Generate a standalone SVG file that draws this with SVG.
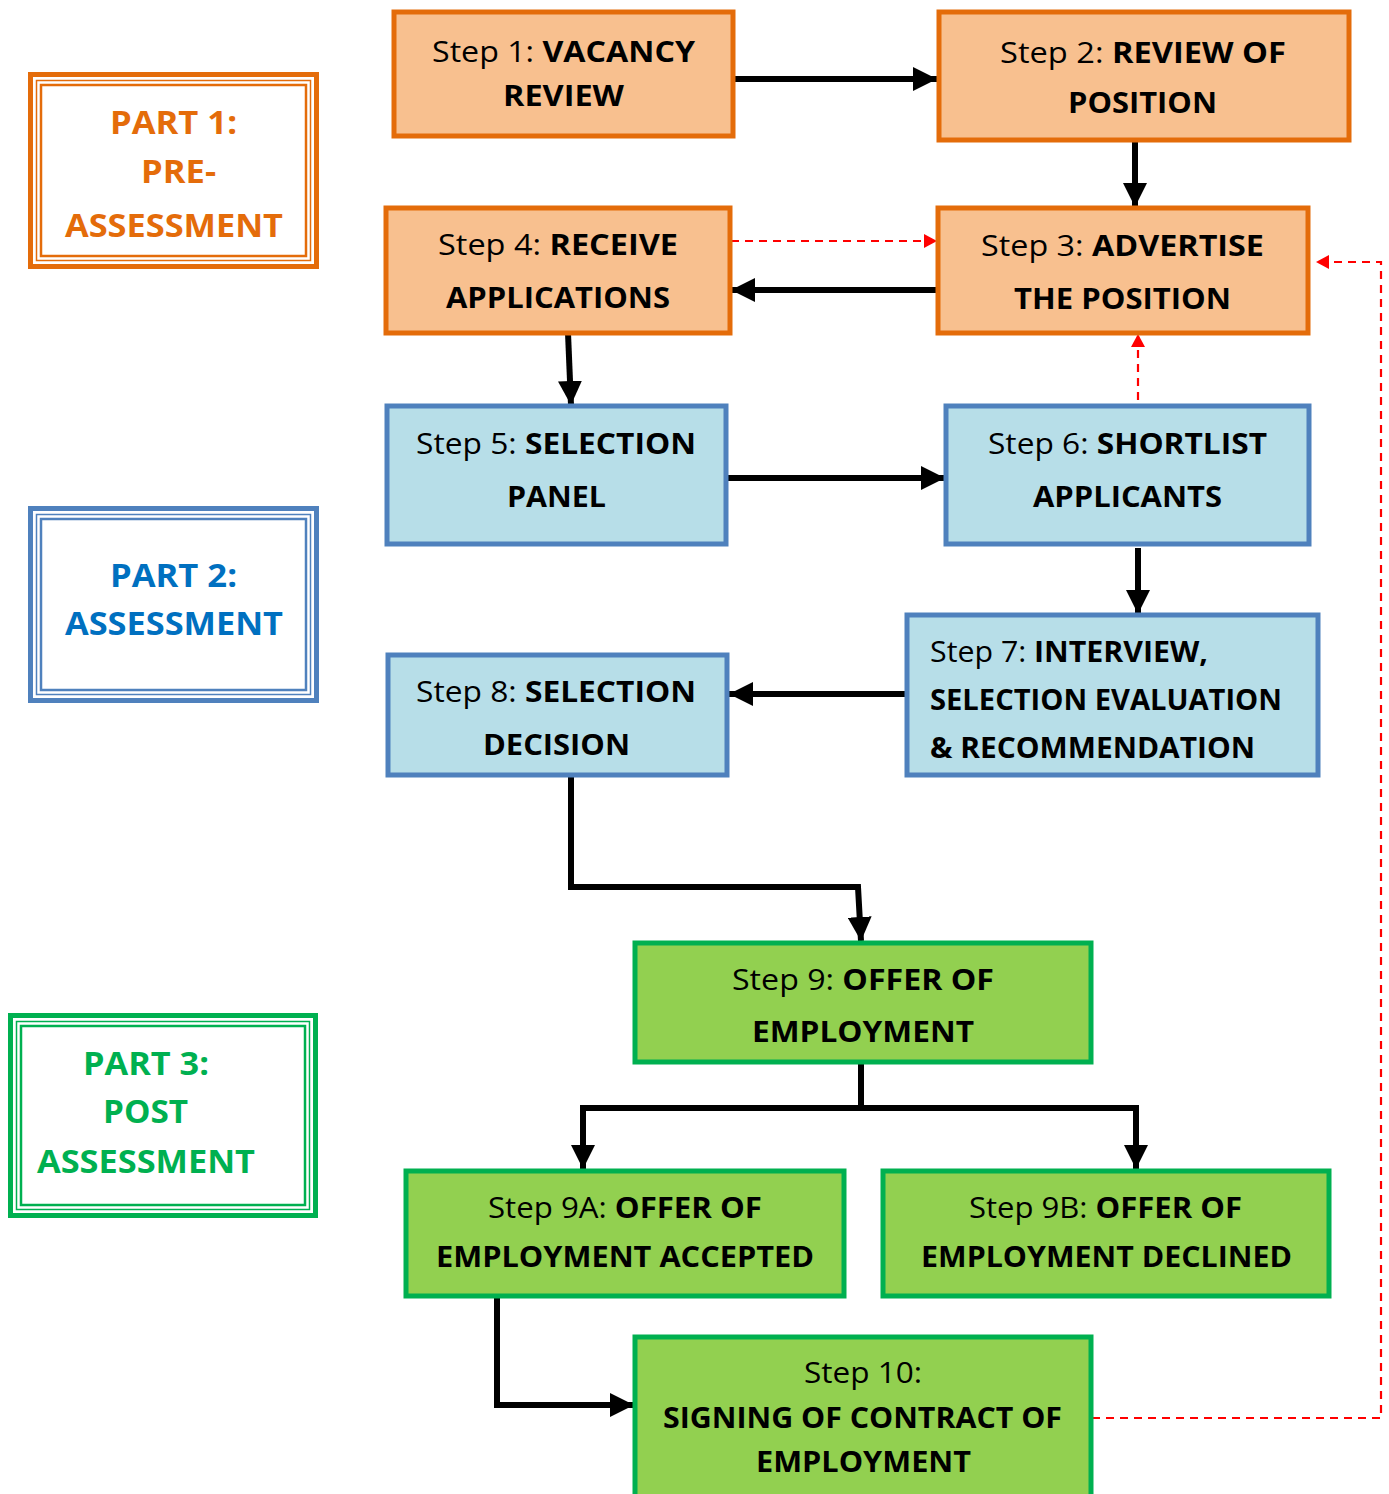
<svg xmlns="http://www.w3.org/2000/svg" width="1389" height="1494" viewBox="0 0 1389 1494">
<style>
.t{font-family:"Open Sans","Liberation Sans",sans-serif;font-size:29px;fill:#000}
.c{text-anchor:middle}
.b{font-weight:bold}
.p{font-family:"Open Sans","Liberation Sans",sans-serif;font-size:33px;font-weight:bold;text-anchor:middle}
.or{fill:#F8C08F;stroke:#E46C0A;stroke-width:5}
.bl{fill:#B7DEE8;stroke:#4F81BD;stroke-width:5}
.gr{fill:#92D050;stroke:#00B050;stroke-width:5}
.con{fill:none;stroke:#000;stroke-width:6;stroke-linejoin:miter;marker-end:url(#ah)}
.red{fill:none;stroke:#FF0000;stroke-width:2.2;stroke-dasharray:8 6;marker-end:url(#rh)}
</style>
<defs>
<marker id="ah" markerUnits="userSpaceOnUse" markerWidth="24" markerHeight="24" refX="24" refY="12" orient="auto"><path d="M0,0 L24,12 L0,24 z" fill="#000"/></marker>
<marker id="rh" markerUnits="userSpaceOnUse" markerWidth="13" markerHeight="14" refX="13" refY="7" orient="auto"><path d="M0,0 L13,7 L0,14 z" fill="#FF0000"/></marker>
</defs>
<rect width="1389" height="1494" fill="#fff"/>

<g id="part1">
<rect x="30.5" y="74.5" width="286" height="192" fill="#fff" stroke="#E46C0A" stroke-width="5"/>
<rect x="36.5" y="80.5" width="274" height="180" fill="none" stroke="#E46C0A" stroke-width="1.5"/>
<rect x="41" y="85" width="265" height="171" fill="none" stroke="#E46C0A" stroke-width="2.5"/>
<text class="p" fill="#E46C0A" x="173.5" y="134" textLength="127" lengthAdjust="spacingAndGlyphs">PART 1:</text>
<text class="p" fill="#E46C0A" x="178.5" y="183" textLength="75" lengthAdjust="spacingAndGlyphs">PRE-</text>
<text class="p" fill="#E46C0A" x="174" y="237" textLength="218" lengthAdjust="spacingAndGlyphs">ASSESSMENT</text>
</g>

<g id="part2">
<rect x="30.5" y="508.5" width="286" height="192" fill="#fff" stroke="#4F81BD" stroke-width="5"/>
<rect x="36.5" y="514.5" width="274" height="180" fill="none" stroke="#4F81BD" stroke-width="1.5"/>
<rect x="41" y="519" width="265" height="171" fill="none" stroke="#4F81BD" stroke-width="2.5"/>
<text class="p" fill="#0070C0" x="173.5" y="587" textLength="127" lengthAdjust="spacingAndGlyphs">PART 2:</text>
<text class="p" fill="#0070C0" x="174" y="635" textLength="218" lengthAdjust="spacingAndGlyphs">ASSESSMENT</text>
</g>

<g id="part3">
<rect x="10.5" y="1015.5" width="305" height="200" fill="#fff" stroke="#00B050" stroke-width="5"/>
<rect x="16.5" y="1021.5" width="293" height="188" fill="none" stroke="#00B050" stroke-width="1.5"/>
<rect x="21" y="1026" width="284" height="179" fill="none" stroke="#00B050" stroke-width="2.5"/>
<text class="p" fill="#00B050" x="146" y="1075" textLength="126" lengthAdjust="spacingAndGlyphs">PART 3:</text>
<text class="p" fill="#00B050" x="145.5" y="1123" textLength="85" lengthAdjust="spacingAndGlyphs">POST</text>
<text class="p" fill="#00B050" x="146" y="1173" textLength="218" lengthAdjust="spacingAndGlyphs">ASSESSMENT</text>
</g>

<g id="connectors">
<path class="con" d="M733,79 L937,79"/>
<path class="con" d="M1135,140 L1135,207"/>
<path class="con" d="M942,290 L731,290"/>
<path class="con" d="M568,333 L571,405"/>
<path class="con" d="M727,478 L945,478"/>
<path class="con" d="M1138,548 L1138,614"/>
<path class="con" d="M906,694 L729,694"/>
<path class="con" d="M571,776 L571,887 L858,887 L861,941"/>
<path d="M861,1063 L861,1108 M580,1108 L1139,1108" fill="none" stroke="#000" stroke-width="6"/>
<path class="con" d="M583,1105 L583,1169"/>
<path class="con" d="M1136,1105 L1136,1169"/>
<path class="con" d="M497,1297 L497,1405 L634,1405"/>
<path class="red" d="M731,241 L937,241"/>
<path class="red" d="M1138,400 L1138,334"/>
<path class="red" d="M1092,1418 L1381,1418 L1381,262 L1316,262"/>
</g>

<g id="step1">
<rect class="or" x="394" y="12" width="339" height="124"/>
<text class="t c" x="563.5" y="62" textLength="263" lengthAdjust="spacingAndGlyphs">Step 1: <tspan class="b">VACANCY</tspan></text>
<text class="t c b" x="563.5" y="106" textLength="121" lengthAdjust="spacingAndGlyphs">REVIEW</text>
</g>
<g id="step2">
<rect class="or" x="939" y="12" width="410" height="128"/>
<text class="t c" x="1143" y="63" textLength="286" lengthAdjust="spacingAndGlyphs">Step 2: <tspan class="b">REVIEW OF</tspan></text>
<text class="t c b" x="1142.5" y="113" textLength="149" lengthAdjust="spacingAndGlyphs">POSITION</text>
</g>
<g id="step3">
<rect class="or" x="938" y="208" width="370" height="125"/>
<text class="t c" x="1122.5" y="256" textLength="283" lengthAdjust="spacingAndGlyphs">Step 3: <tspan class="b">ADVERTISE</tspan></text>
<text class="t c b" x="1122.5" y="309" textLength="217" lengthAdjust="spacingAndGlyphs">THE POSITION</text>
</g>
<g id="step4">
<rect class="or" x="386" y="208" width="344" height="125"/>
<text class="t c" x="558" y="255" textLength="240" lengthAdjust="spacingAndGlyphs">Step 4: <tspan class="b">RECEIVE</tspan></text>
<text class="t c b" x="558" y="308" textLength="224" lengthAdjust="spacingAndGlyphs">APPLICATIONS</text>
</g>
<g id="step5">
<rect class="bl" x="387" y="406" width="339" height="138"/>
<text class="t c" x="556" y="454" textLength="280" lengthAdjust="spacingAndGlyphs">Step 5: <tspan class="b">SELECTION</tspan></text>
<text class="t c b" x="556.5" y="507" textLength="99" lengthAdjust="spacingAndGlyphs">PANEL</text>
</g>
<g id="step6">
<rect class="bl" x="946" y="406" width="363" height="138"/>
<text class="t c" x="1127.5" y="454" textLength="279" lengthAdjust="spacingAndGlyphs">Step 6: <tspan class="b">SHORTLIST</tspan></text>
<text class="t c b" x="1127.5" y="507" textLength="189" lengthAdjust="spacingAndGlyphs">APPLICANTS</text>
</g>
<g id="step7">
<rect class="bl" x="907" y="615" width="411" height="160"/>
<text class="t" x="930" y="662" textLength="278" lengthAdjust="spacingAndGlyphs">Step 7: <tspan class="b">INTERVIEW,</tspan></text>
<text class="t b" x="930" y="710" textLength="352" lengthAdjust="spacingAndGlyphs">SELECTION EVALUATION</text>
<text class="t b" x="930" y="758" textLength="325" lengthAdjust="spacingAndGlyphs">&amp; RECOMMENDATION</text>
</g>
<g id="step8">
<rect class="bl" x="388" y="655" width="339" height="120"/>
<text class="t c" x="556" y="702" textLength="280" lengthAdjust="spacingAndGlyphs">Step 8: <tspan class="b">SELECTION</tspan></text>
<text class="t c b" x="556.5" y="755" textLength="147" lengthAdjust="spacingAndGlyphs">DECISION</text>
</g>
<g id="step9">
<rect class="gr" x="635" y="943" width="456" height="119"/>
<text class="t c" x="863" y="990" textLength="262" lengthAdjust="spacingAndGlyphs">Step 9: <tspan class="b">OFFER OF</tspan></text>
<text class="t c b" x="863" y="1042" textLength="222" lengthAdjust="spacingAndGlyphs">EMPLOYMENT</text>
</g>
<g id="step9a">
<rect class="gr" x="406" y="1171" width="438" height="125"/>
<text class="t c" x="625" y="1218" textLength="274" lengthAdjust="spacingAndGlyphs">Step 9A: <tspan class="b">OFFER OF</tspan></text>
<text class="t c b" x="625" y="1267" textLength="378" lengthAdjust="spacingAndGlyphs">EMPLOYMENT ACCEPTED</text>
</g>
<g id="step9b">
<rect class="gr" x="883" y="1171" width="446" height="125"/>
<text class="t c" x="1105.5" y="1218" textLength="273" lengthAdjust="spacingAndGlyphs">Step 9B: <tspan class="b">OFFER OF</tspan></text>
<text class="t c b" x="1106.5" y="1267" textLength="371" lengthAdjust="spacingAndGlyphs">EMPLOYMENT DECLINED</text>
</g>
<g id="step10">
<rect class="gr" x="635" y="1337" width="456" height="200"/>
<text class="t c" x="863" y="1383" textLength="118" lengthAdjust="spacingAndGlyphs">Step 10:</text>
<text class="t c b" x="862.5" y="1428" textLength="399" lengthAdjust="spacingAndGlyphs">SIGNING OF CONTRACT OF</text>
<text class="t c b" x="863.5" y="1472" textLength="215" lengthAdjust="spacingAndGlyphs">EMPLOYMENT</text>
</g>
</svg>
